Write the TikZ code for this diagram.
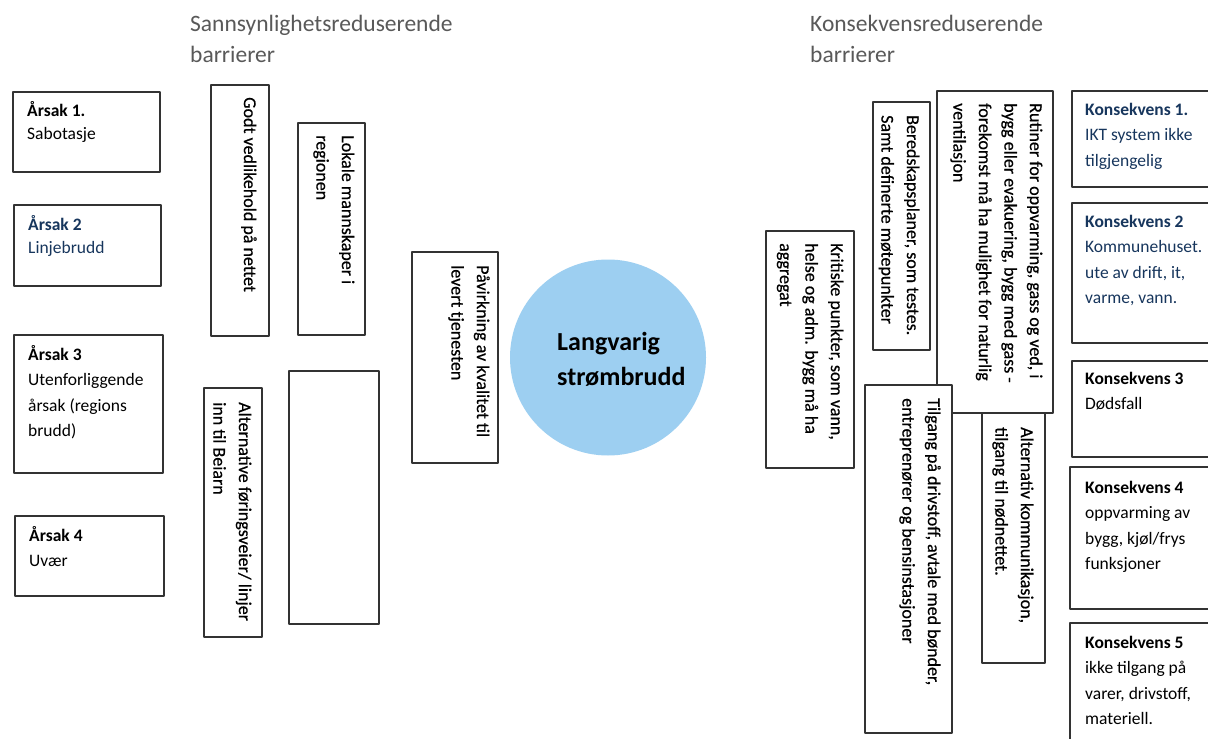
\documentclass[tikz,border=0pt]{standalone}
\usepackage{fontspec}
\setmainfont{Carlito}
\newfontfamily\halvfet{Carlito}[FakeBold=0.5]
\usetikzlibrary{calc}
\definecolor{navy}{RGB}{23,54,93}
\definecolor{graa}{RGB}{89,89,89}
\definecolor{lysblaa}{RGB}{157,207,241}

\begin{document}
\begin{tikzpicture}[x=1pt,y=-1pt,line join=round,
  boks/.style={draw=black!80,line width=1.2pt,fill=white,inner sep=0pt,outer sep=0pt,anchor=north west},
  tekst/.style={inner sep=0pt,anchor=north west,align=left,font=\fontsize{17.5}{25.5}\selectfont},
  vtekst/.style={tekst,rotate=-90,font=\halvfet\fontsize{18}{25.5}\selectfont}]
\clip (0,0) rectangle (1208,739);
\fill [white] (0,0) rectangle (1208,739);

% overskrifter
\node [tekst,text=graa,font=\fontsize{23.5}{31}\selectfont] (hsann) at (190,10) {\strut Sannsynlighetsreduserende\\barrierer};
\node [tekst,text=graa,font=\fontsize{23.5}{31}\selectfont] (hkons) at (810,10) {\strut Konsekvensreduserende\\barrierer};

% årsaker
\node [boks,minimum width=147pt,minimum height=80pt] (aarsak1) at (13,92) {};
\node [tekst,font=\fontsize{17.5}{23}\selectfont] (ta1) at ($(aarsak1.north west)+(14,8)$) {\strut\textbf{Årsak 1.}\\Sabotasje};
\node [boks,minimum width=147pt,minimum height=81pt] (aarsak2) at (14,205) {};
\node [tekst,text=navy,font=\fontsize{17.5}{23}\selectfont] (ta2) at ($(aarsak2.north west)+(14,9)$) {\strut\textbf{Årsak 2}\\Linjebrudd};
\node [boks,minimum width=149pt,minimum height=138pt] (aarsak3) at (14,335) {};
\node [tekst] (ta3) at ($(aarsak3.north west)+(14,7)$) {\strut\textbf{Årsak 3}\\Utenforliggende\\årsak (regions\\brudd)};
\node [boks,minimum width=149pt,minimum height=80pt] (aarsak4) at (15,516) {};
\node [tekst] (ta4) at ($(aarsak4.north west)+(14,7)$) {\strut\textbf{Årsak 4}\\Uvær};

% sannsynlighetsreduserende barrierer
\node [boks,minimum width=58pt,minimum height=251pt] (godt) at (211,85) {};
\node [vtekst] (tgodt) at ($(godt.north east)+(-7,12)$) {\strut Godt vedlikehold på nettet};
\node [boks,minimum width=67pt,minimum height=212pt] (lokale) at (298,123) {};
\node [vtekst] (tlokale) at ($(lokale.north east)+(-5,12)$) {\strut Lokale mannskaper i\\regionen};
\node [boks,minimum width=86pt,minimum height=211pt] (paavirk) at (412,252) {};
\node [vtekst] (tpaavirk) at ($(paavirk.north east)+(-3,13)$) {\strut Påvirkning av kvalitet til\\levert tjenesten};
\node [boks,minimum width=58pt,minimum height=249pt] (altfor) at (204,388) {};
\node [vtekst] (taltfor) at ($(altfor.north east)+(-5,14)$) {\strut Alternative føringsveier/ linjer\\inn til Beiarn};
\node [boks,minimum width=90pt,minimum height=253pt] (tom) at (289,371) {};

% topphendelse
\node [circle,fill=lysblaa,minimum size=196pt,inner sep=0pt] (brudd) at (608,357.5) {};
\node [tekst,font=\bfseries\fontsize{26}{35}\selectfont] (tbrudd) at ($(brudd.center)+(-51,-32)$) {\strut Langvarig\\strømbrudd};

% konsekvensreduserende barrierer
\node [boks,minimum width=88pt,minimum height=237pt] (kritisk) at (766,231) {};
\node [vtekst] (tkritisk) at ($(kritisk.north east)+(-5,12)$) {\strut Kritiske punkter, som vann,\\helse og adm. bygg må ha\\aggregat};
\node [boks,minimum width=57pt,minimum height=248pt] (bered) at (873,102) {};
\node [vtekst] (tbered) at ($(bered.north east)+(-5,13)$) {\strut Beredskapsplaner, som testes.\\Samt definerte møtepunkter};
\node [boks,minimum width=63pt,minimum height=268pt] (altkom) at (982,395) {};
\node [vtekst] (taltkom) at ($(altkom.north east)+(-6,32)$) {\strut Alternativ kommunikasjon,\\tilgang til nødnettet.};
\node [boks,minimum width=116pt,minimum height=322pt] (rutiner) at (937,91) {};
\node [vtekst] (trutiner) at ($(rutiner.north east)+(-5,12)$) {\strut Rutiner for oppvarming, gass og ved, i\\bygg eller evakuering, bygg med gass -\\forekomst må ha mulighet for naturlig\\ventilasjon};
\node [boks,minimum width=87pt,minimum height=348pt] (tilgang) at (865,385) {};
\node [vtekst] (ttilgang) at ($(tilgang.north east)+(-6,13)$) {\strut Tilgang på drivstoff, avtale med bønder,\\entreprenører og bensinstasjoner};

% konsekvenser
\node [boks,minimum width=150pt,minimum height=96pt] (kons1) at (1072,91) {};
\node [tekst,text=navy] (tk1) at ($(kons1.north west)+(13,6)$) {\strut\textbf{Konsekvens 1.}\\IKT system ikke\\tilgjengelig};
\node [boks,minimum width=150pt,minimum height=140pt] (kons2) at (1072,203) {};
\node [tekst,text=navy] (tk2) at ($(kons2.north west)+(13,6)$) {\strut\textbf{Konsekvens 2}\\Kommunehuset.\\ute av drift, it,\\varme, vann.};
\node [boks,minimum width=150pt,minimum height=96pt] (kons3) at (1072,361) {};
\node [tekst] (tk3) at ($(kons3.north west)+(13,5)$) {\strut\textbf{Konsekvens 3}\\Dødsfall};
\node [boks,minimum width=152pt,minimum height=142pt] (kons4) at (1070,467) {};
\node [tekst] (tk4) at ($(kons4.north west)+(15,8)$) {\strut\textbf{Konsekvens 4}\\oppvarming av\\bygg, kjøl/frys\\funksjoner};
\node [boks,minimum width=152pt,minimum height=140pt] (kons5) at (1070,623) {};
\node [tekst] (tk5) at ($(kons5.north west)+(15,7)$) {\strut\textbf{Konsekvens 5}\\ikke tilgang på\\varer, drivstoff,\\materiell.};
\end{tikzpicture}
\end{document}
